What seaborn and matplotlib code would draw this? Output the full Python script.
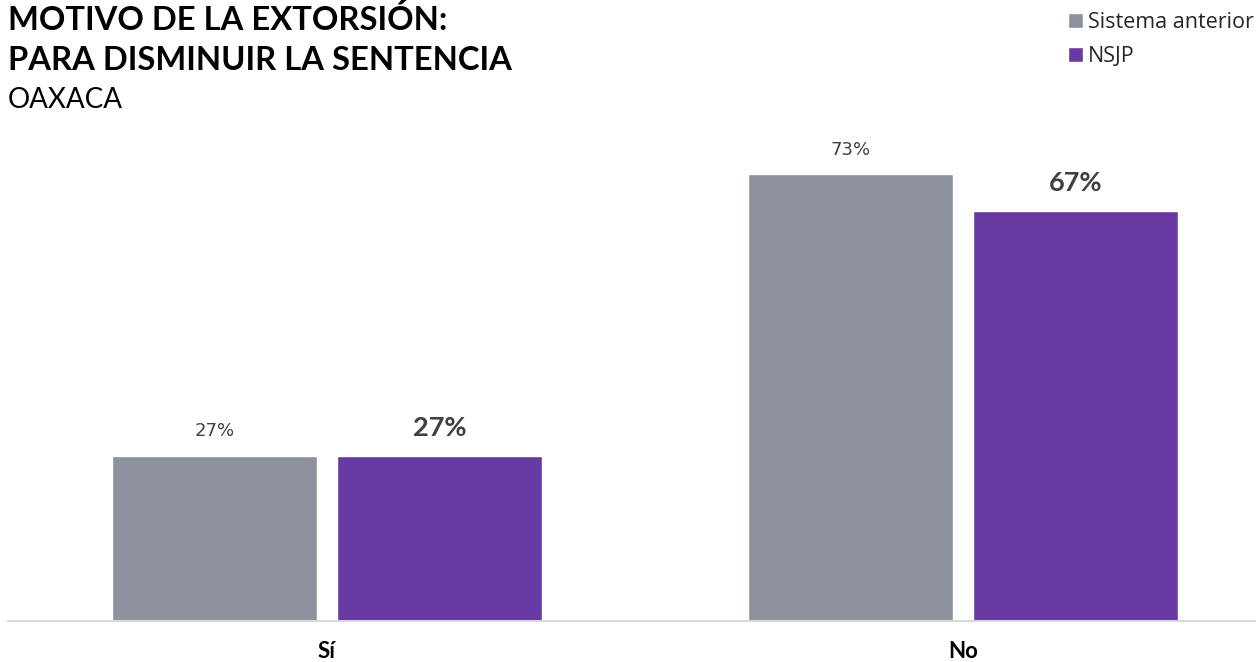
import matplotlib
matplotlib.use("Agg")
import matplotlib.pyplot as plt
import pandas as pd
import seaborn as sns

categories = ["Sí", "No"]
series = ["Sistema anterior", "NSJP"]
sistema_anterior = [27, 73]
nsjp = [27, 67]

df = pd.DataFrame({
    "cat": categories * 2,
    "serie": [series[0]] * 2 + [series[1]] * 2,
    "valor": sistema_anterior + nsjp,
})

sns.set_style("white")
plt.rcParams['font.family'] = ['Lato', 'DejaVu Sans']
color_dict = {"Sistema anterior": "#8e929e", "NSJP": "#6839a0"}

W, H = 1256, 662
fig = plt.figure(figsize=(W / 100, H / 100), dpi=100)
ax = fig.add_axes([8 / W, (H - 621) / H, 1248 / W, (621 - 130) / H])

sns.barplot(data=df, x="cat", y="valor", hue="serie", palette=color_dict,
            width=0.7075, gap=0.093, ax=ax, legend=True, saturation=1)

ax.set_xlim(-0.5016, 1.4607)
ax.set_ylim(0, (621 - 130) / 6.123)
ax.set_xlabel("")
ax.set_ylabel("")
ax.set_yticks([])
ax.tick_params(axis="x", length=0, pad=14.5)
for lbl in ax.get_xticklabels():
    lbl.set_fontsize(16)
    lbl.set_fontweight("bold")
    lbl.set_color("black")
for s in ["top", "left", "right"]:
    ax.spines[s].set_visible(False)
ax.spines["bottom"].set_color("#d9d9d9")
ax.spines["bottom"].set_linewidth(1.5)

# etiquetas de valor
ax.bar_label(ax.containers[0], labels=[f"{v}%" for v in sistema_anterior],
             padding=11, fontsize=13, color="#404040",
             family=["DejaVu Sans"])
ax.bar_label(ax.containers[1], labels=[f"{v}%" for v in nsjp],
             padding=11, fontsize=19.5, color="#404040", fontweight="bold")

# leyenda arriba a la derecha
handles, labels = ax.get_legend_handles_labels()
ax.get_legend().remove()
fig.legend(handles, labels, loc="upper right", bbox_to_anchor=(1.005, 0.995),
           frameon=False, handlelength=0.7, handleheight=0.7,
           handletextpad=0.2, labelspacing=0.6, borderaxespad=0,
           prop={"family": ["Open Sans", "DejaVu Sans"], "size": 15.5})

# titulos
fig.text(8 / W, 1 - 5 / H, "MOTIVO DE LA EXTORSIÓN:\nPARA DISMINUIR LA SENTENCIA",
         fontsize=23.6, fontweight="bold", color="black", va="top", ha="left",
         linespacing=1.45)
fig.text(8 / W, 1 - 87 / H, "OAXACA", fontsize=20, color="black",
         va="top", ha="left")

fig.savefig("out.png", dpi=100)
